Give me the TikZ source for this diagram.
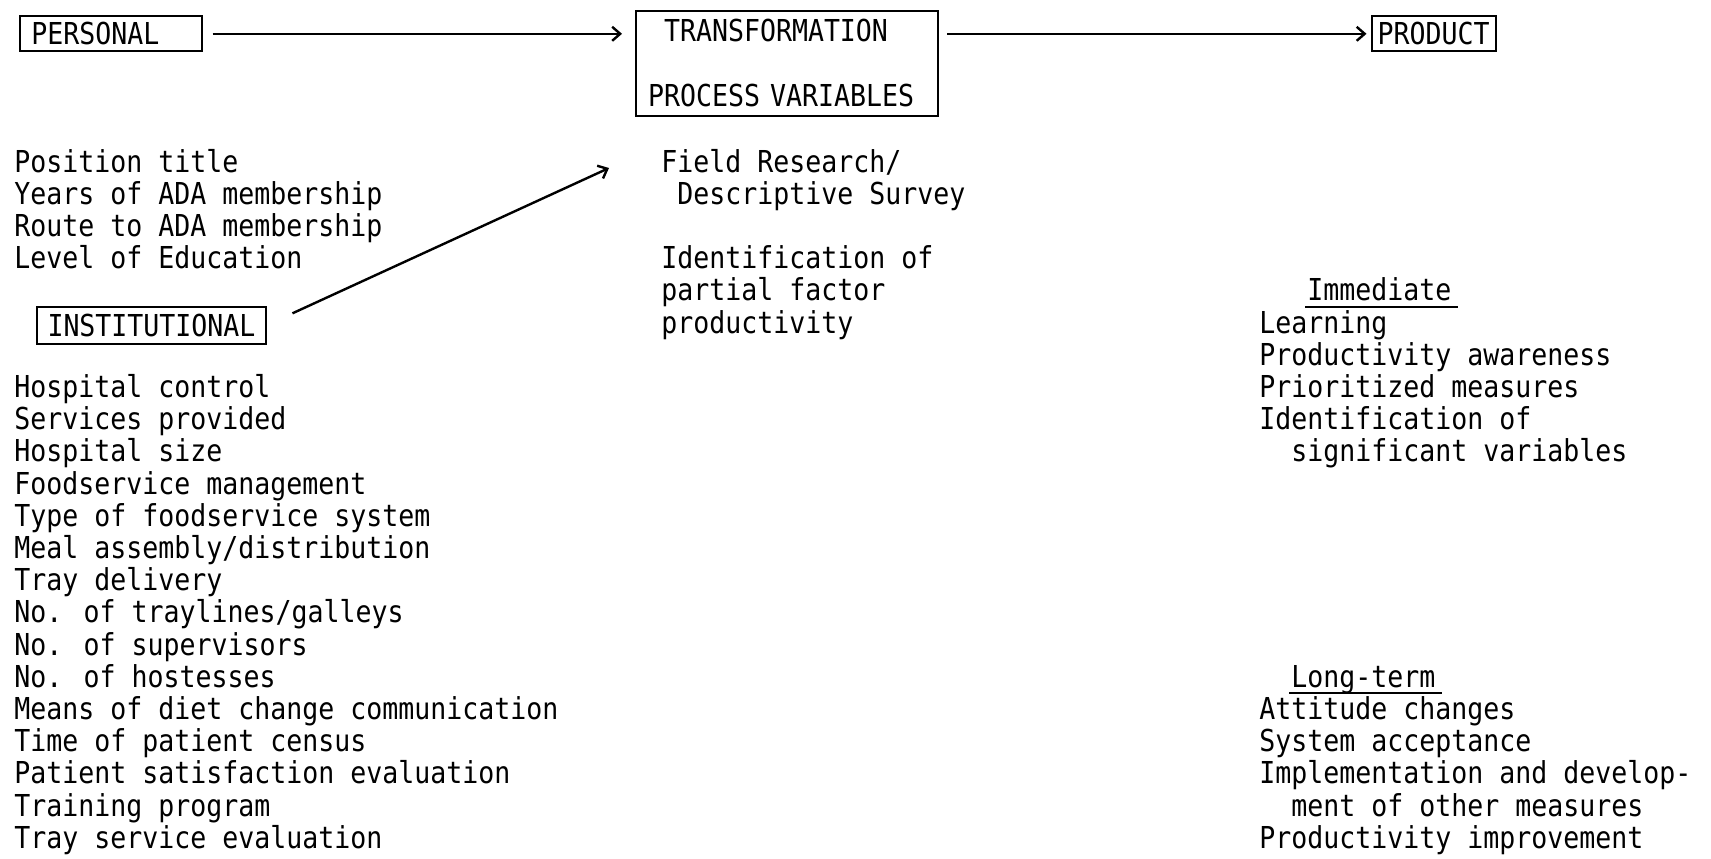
\documentclass[tikz,border=0pt]{standalone}
\usepackage{fontspec}
\newfontfamily\typewr[FakeStretch=0.88]{DejaVu Sans Mono}
\newcommand\scanfont{\typewr\fontsize{15.1pt}{16.1pt}\selectfont}
\usetikzlibrary{arrows.meta}

\begin{document}
\begin{tikzpicture}[
        x=0.5pt, y=-0.5pt,
        box/.style = {
            draw=black,
            line width=1pt,
            inner xsep=6pt,
            inner ysep=0pt,
            align=left,
            anchor=north west,
            font=\scanfont
        },
        txt/.style = {
            anchor=base west,
            inner sep=0pt,
            font=\scanfont
        },
        arrow/.style = {
            -{Straight Barb[length=4pt,width=7pt]},
            line width=1.2pt
        }
    ]

    \fill[white] (0,0) rectangle (1711,858);
    \useasboundingbox (0,0) rectangle (1711,858);

    % Boxes
    \node[box, text width=79pt, minimum height=17.5pt] (personal) at (18.5,15.3) {PERSONAL};
    \node[box, text width=139pt, minimum height=52.4pt] (trans) at (635,9.8) {\hphantom{x}TRANSFORMATION\\[16.1pt]PROCESS VARIABLES};
    \node[box, inner xsep=3pt, text width=56pt, minimum height=17.5pt] (product) at (1370.5,15.3) {PRODUCT};
    \node[box, inner xsep=5.25pt, text width=104pt, minimum height=18.5pt] (institutional) at (36,305.5) {INSTITUTIONAL};

    % Arrows
    \coordinate (fieldtip) at (609,168);
    \draw[arrow, shorten <=5pt, shorten >=6.5pt] (personal.east) -- (personal.east -| trans.west);
    \draw[arrow, shorten <=4pt, shorten >=2pt] (trans.east |- product.west) -- (product.west);
    \draw[arrow, shorten <=14pt] (institutional.east) -- (fieldtip);

    % Personal variables
    \foreach \t [count=\i from 0] in {Position title, Years of ADA membership, Route to ADA membership, Level of Education}
        \node[txt] (persvar\i) at (14,{172+32.2*\i}) {\t};

    % Institutional variables
    \foreach \t [count=\i from 7] in {Hospital control, Services provided, Hospital size, Foodservice management, Type of foodservice system, Meal assembly/distribution, Tray delivery, No. of traylines/galleys, No. of supervisors, No. of hostesses, Means of diet change communication, Time of patient census, Patient satisfaction evaluation, Training program, Tray service evaluation}
        \node[txt] (instvar\i) at (14,{172+32.2*\i}) {\t};

    % Process
    \node[txt] (field) at (661,172) {Field Research/};
    \node[txt] (survey) at (661,204.2) {\hphantom{x}Descriptive Survey};
    \node[txt] (ident) at (661,268.6) {Identification of};
    \node[txt] (partial) at (661,300.8) {partial factor};
    \node[txt] (prodty) at (661,333) {productivity};

    % Product
    \node[txt] (immediate) at (1307,300.8) {Immediate};
    \draw[line width=1pt] ([xshift=-1pt,yshift=-3pt]immediate.base west) -- ([xshift=3pt,yshift=-3pt]immediate.base east);
    \foreach \t [count=\i from 5] in {Learning, Productivity awareness, Prioritized measures, Identification of, \hphantom{xx}significant variables}
        \node[txt] (immvar\i) at (1259,{172+32.2*\i}) {\t};

    \node[txt] (longterm) at (1291,687.2) {Long-term};
    \draw[line width=1pt] ([xshift=-1pt,yshift=-3pt]longterm.base west) -- ([xshift=3pt,yshift=-3pt]longterm.base east);
    \foreach \t [count=\i from 17] in {Attitude changes, System acceptance, Implementation and develop-, \hphantom{xx}ment of other measures, Productivity improvement}
        \node[txt] (longvar\i) at (1259,{172+32.2*\i}) {\t};

\end{tikzpicture}
\end{document}
